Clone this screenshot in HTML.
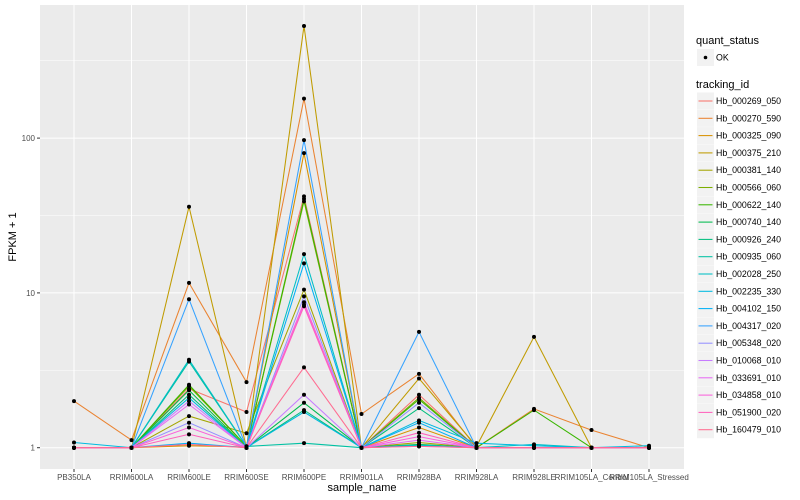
<!DOCTYPE html>
<html><head><meta charset="utf-8"><style>
body{margin:0;background:#fff;font-family:"Liberation Sans",sans-serif;}
svg{display:block}
</style></head><body>
<svg id="chart" width="800" height="500" xmlns="http://www.w3.org/2000/svg" font-family="Liberation Sans, sans-serif"></svg>
<script>
const categories = ["PB350LA","RRIM600LA","RRIM600LE","RRIM600SE","RRIM600PE","RRIM901LA","RRIM928BA","RRIM928LA","RRIM928LE","RRIM105LA_Control","RRIM105LA_Stressed"];
const seriesNames = ["Hb_000269_050","Hb_000270_590","Hb_000325_090","Hb_000375_210","Hb_000381_140","Hb_000566_060","Hb_000622_140","Hb_000740_140","Hb_000926_240","Hb_000935_060","Hb_002028_250","Hb_002235_330","Hb_004102_150","Hb_004317_020","Hb_005348_020","Hb_010068_010","Hb_033691_010","Hb_034858_010","Hb_051900_020","Hb_160479_010"];
const seriesColors = ["#F8766D","#EA8331","#D89000","#C09B00","#A3A500","#7CAE00","#39B600","#00BB4E","#00BF7D","#00C1A3","#00BFC4","#00BAE0","#00B0F6","#35A2FF","#9590FF","#C77CFF","#E76BF3","#FA62DB","#FF62BC","#FF6C91"];
const s00 = [1,1,2.4,1.7,42,1,2.2,1,1,1,1];
const s01 = [2.0,1.12,11.6,2.65,180,1.65,3.0,1,1.78,1.3,1];
const s02 = [1,1,1.03,1.01,80,1,1.35,1,1,1,1];
const s03 = [1,1,36,1,530,1,2.8,1.02,5.2,1,1];
const s04 = [1,1,1.6,1.24,10.5,1,1.08,1,1,1,1];
const s05 = [1,1,2.5,1.02,39,1,2.1,1,1,1,1];
const s06 = [1,1,2.55,1.02,40.5,1,2.05,1,1.75,1,1];
const s07 = [1,1,2.35,1,1.95,1,1.05,1,1,1,1];
const s08 = [1,1,2.2,1,1.75,1,1.8,1,1,1,1];
const s09 = [1,1,3.6,1.02,1.07,1,1.03,1,1,1,1];
const s10 = [1,1,3.7,1.02,17.8,1,1.04,1,1.05,1,1];
const s11 = [1.08,1,2.1,1,1.7,1,1.5,1.07,1.03,1,1.03];
const s12 = [1,1,1.07,1,15.5,1,1.45,1,1,1,1];
const s13 = [1,1,9.1,1,97,1,5.6,1,1,1,1];
const s14 = [1,1,1.45,1,9.5,1,1.95,1,1,1,1];
const s15 = [1,1,2.0,1,2.2,1,1.02,1,1,1,1];
const s16 = [1,1,1.9,1,8.4,1,1.12,1,1,1,1];
const s17 = [1,1,1.35,1,8.7,1,1.18,1,1,1,1];
const s18 = [1,1,1.22,1,8.2,1,1.25,1,1,1,1];
const s19 = [1,1,1.05,1,3.3,1,1.02,1,1,1,1];
const seriesValues = [s00,s01,s02,s03,s04,s05,s06,s07,s08,s09,s10,s11,s12,s13,s14,s15,s16,s17,s18,s19];
const yTickValues = [1,10,100];
const yTickLabels = ["1","10","100"];
const yMinorValues = [3.1623,31.623,316.23];

const NS="http://www.w3.org/2000/svg";
const svg=document.getElementById('chart');
const P={l:40,r:684,t:5,b:469};
function xs(i){return 74+i*57.5;}
function ys(v){return 447.7-Math.log10(v)*154.8;}
function mk(tag,attrs,parent){const e=document.createElementNS(NS,tag);for(const k in attrs)e.setAttribute(k,attrs[k]);(parent||svg).appendChild(e);return e;}

const panel=mk('rect',{x:P.l,y:P.t,width:P.r-P.l,height:P.b-P.t,fill:'#EBEBEB'});


yMinorValues.forEach(v=>{const l=mk('line',{x1:P.l,x2:P.r,y1:ys(v),y2:ys(v),stroke:'#fff','stroke-width':0.5});

});
yTickValues.forEach((v,i)=>{const l=mk('line',{x1:P.l,x2:P.r,y1:ys(v),y2:ys(v),stroke:'#fff','stroke-width':1});


const t=mk('line',{x1:P.l-3,x2:P.l,y1:ys(v),y2:ys(v),stroke:'#333','stroke-width':1});


const tx=mk('text',{x:P.l-5,y:ys(v)+3,'text-anchor':'end','font-size':8,fill:'#4d4d4d'});tx.textContent=yTickLabels[i];

});
categories.forEach((c,i)=>{const l=mk('line',{x1:xs(i),x2:xs(i),y1:P.t,y2:P.b,stroke:'#fff','stroke-width':1});


const t=mk('line',{x1:xs(i),x2:xs(i),y1:P.b,y2:P.b+3,stroke:'#333','stroke-width':1});


const tx=mk('text',{x:xs(i),y:P.b+11,'text-anchor':'middle','font-size':8,fill:'#4d4d4d'});tx.textContent=c;

});

seriesValues.forEach((vals,si)=>{const pts=vals.map((v,i)=>xs(i).toFixed(1)+','+ys(v).toFixed(1)).join(' ');
const pl=mk('polyline',{points:pts,fill:'none',stroke:seriesColors[si],'stroke-width':1.05});

});
seriesValues.forEach((vals,si)=>{vals.forEach((v,i)=>{const c=mk('circle',{cx:xs(i),cy:ys(v),r:2,fill:'#000'});

});});

const xt=mk('text',{x:(P.l+P.r)/2,y:491,'text-anchor':'middle','font-size':11,fill:'#000'});xt.textContent='sample_name';


const yt=mk('text',{x:0,y:0,'text-anchor':'middle','font-size':11,fill:'#000',transform:'translate(16,237) rotate(-90)'});yt.textContent='FPKM + 1';



const lt1=mk('text',{x:696,y:44,'font-size':11,fill:'#000'});lt1.textContent='quant_status';


const kb=mk('rect',{x:697,y:49,width:17,height:17,fill:'#F2F2F2'});


const kd=mk('circle',{cx:705.5,cy:57.5,r:1.8,fill:'#000'});


const kt=mk('text',{x:716,y:60.5,'font-size':8.8,fill:'#000'});kt.textContent='OK';


const lt2=mk('text',{x:696,y:88,'font-size':11,fill:'#000'});lt2.textContent='tracking_id';


seriesNames.forEach((n,i)=>{const y=101+i*17.3;
const g=mk('g',{});


mk('rect',{x:697,y:y-8.5,width:17,height:17,fill:'#F2F2F2'},g);
mk('line',{x1:698.5,x2:712.5,y1:y,y2:y,stroke:seriesColors[i],'stroke-width':1.05},g);
const t=mk('text',{x:716,y:y+3,'font-size':8.8,fill:'#000'},g);t.textContent=n;});
</script>
</body></html>
